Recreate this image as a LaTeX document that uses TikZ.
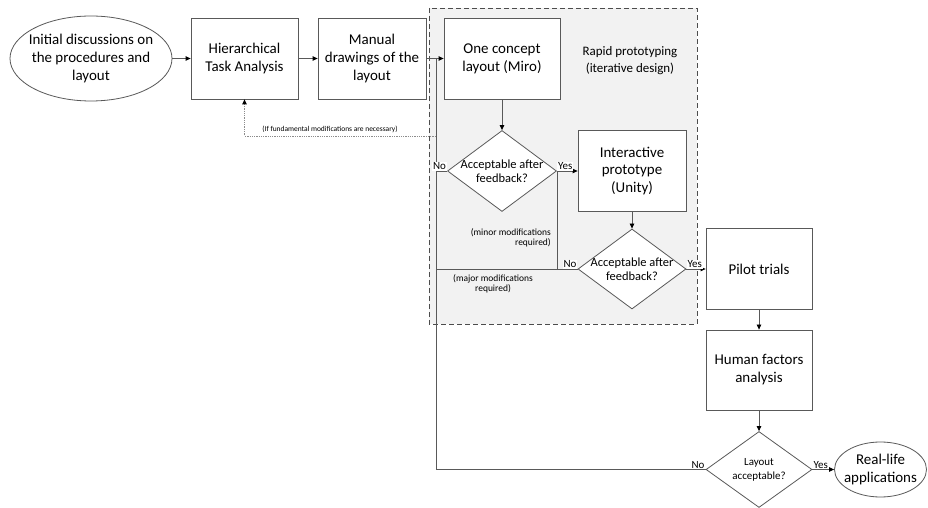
\documentclass[tikz,border=0pt]{standalone}
\usepackage{fontspec}
\setmainfont{Carlito}
\usetikzlibrary{shapes.geometric,arrows.meta}

\tikzset{
  proc/.style={draw=black!65, fill=white, line width=0.8bp, align=center,
    minimum width=107bp, minimum height=81bp, inner sep=2bp,
    font=\fontsize{15}{18}\selectfont},
  decision/.style={draw=black!65, fill=white, line width=0.8bp, diamond, align=center,
    inner sep=-8bp, minimum width=108bp, minimum height=80bp,
    font=\fontsize{12.5}{14.5}\selectfont},
  terminal/.style={draw=black!65, fill=white, line width=0.8bp, ellipse, align=center,
    inner sep=-6bp, font=\fontsize{15}{18}\selectfont},
  link/.style={draw=black!65, line width=0.8bp},
  answer/.style={font=\fontsize{11}{13}\selectfont, inner sep=1bp, fill=white},
  remark/.style={font=\fontsize{9.5}{10.5}\selectfont, inner sep=0pt},
}

\begin{document}
\begin{tikzpicture}[x=1bp, y=-1bp, >={Triangle[length=5bp,width=4.5bp,color=black]}]
\useasboundingbox (0,0) rectangle (928,508);

% rapid prototyping area
\filldraw[fill=gray!10, draw=black!70, line width=0.8bp, dash pattern=on 5bp off 3bp] (429,8) rectangle (697,324);
\node[align=center, font=\fontsize{13}{17}\selectfont] (rapid) at (630,61) {Rapid prototyping\\(iterative design)};

\node[terminal, minimum width=162bp, minimum height=85bp] (init) at (91,58.5) {Initial discussions on\\the procedures and\\layout};
\node[proc] (hta) at (244.5,58.5) {Hierarchical\\Task Analysis};
\node[proc, minimum width=108bp] (manual) at (372,58.5) {Manual\\drawings of the\\layout};
\node[proc, minimum width=116bp] (concept) at (502,58.5) {One concept\\layout (Miro)};
\node[decision, minimum width=109bp, minimum height=81bp] (check1) at (502,171) {Acceptable after\\feedback?};
\node[proc, minimum width=108bp] (unity) at (632,171) {Interactive\\prototype\\(Unity)};
\node[decision] (check2) at (632,269) {Acceptable after\\feedback?};
\node[proc, minimum width=106bp] (pilot) at (759,269) {Pilot trials};
\node[proc, minimum width=106bp, minimum height=80bp] (human) at (759,370) {Human factors\\analysis};
\node[decision, minimum width=106bp, minimum height=76bp, font=\fontsize{11}{14}\selectfont] (check3) at (759,469.5) {Layout\\acceptable?};
\node[terminal, minimum width=92bp, minimum height=55bp] (real) at (880.5,469.5) {Real-life\\applications};

% notes
\node[font=\fontsize{7.5}{9}\selectfont, inner sep=0pt] (fundlbl) at (330,129) {(If fundamental modifications are necessary)};
\node[remark, align=right, anchor=east] (minor) at (551,238) {(minor modifications\\required)};
\node[remark, align=center] (major) at (493,284) {(major modifications\\required)};

\coordinate (loop) at (436,58.5);
\coordinate (fund) at (436,136);

% main flow
\draw[link,->] (init) -- (hta);
\draw[link,->] (hta) -- (manual);
\draw[link,->] (manual) -- (concept);
\draw[link,->] (concept) -- (check1);
\draw[link,->] (check1.east) -- (unity.west);
\draw[link,->] (unity) -- (check2);
\draw[link,->] (check2.east) -- (pilot.west);
\draw[link,->] (pilot) -- (human);
\draw[link,->] (human) -- (check3);
\draw[link,->] (check3.east) -- (real.west);

% feedback loops
\draw[link] (check1.west) -- (check1.west -| loop);
\draw[link] (check1.east) -- (check1.east |- check2.west);
\draw[link] (check2.west) -- (check2.west -| loop);
\draw[link] (check3.west) -| (loop);
\draw[black!45, line width=0.8bp, densely dotted, ->] (fund) -| (hta.south);

% answers
\node[answer, anchor=south east] (no1) at (check1.west) {No};
\node[answer, anchor=south west] (yes1) at (check1.east) {Yes};
\node[answer, anchor=south east] (no2) at (check2.west) {No};
\node[answer, anchor=south west] (yes2) at (check2.east) {Yes};
\node[answer, anchor=south east] (no3) at (check3.west) {No};
\node[answer, anchor=south west] (yes3) at (check3.east) {Yes};

\end{tikzpicture}
\end{document}
